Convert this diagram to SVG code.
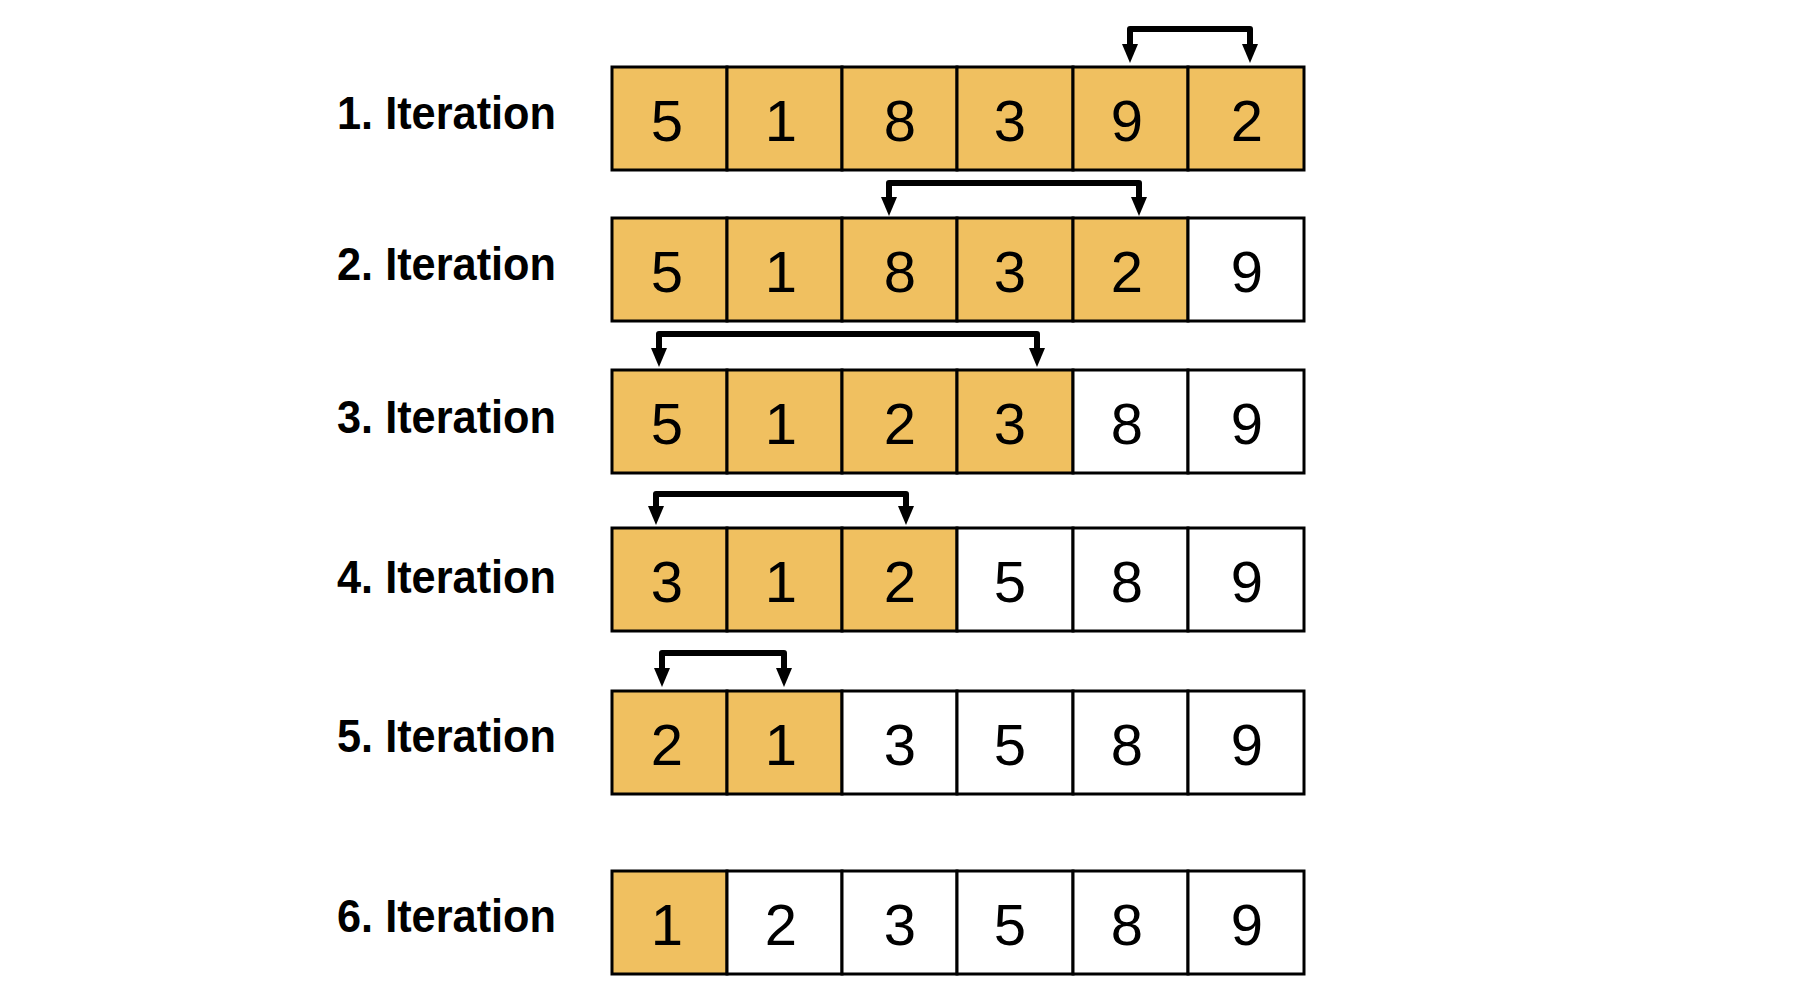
<svg xmlns="http://www.w3.org/2000/svg" width="1800" height="1000" viewBox="0 0 1800 1000">
<style>
.lbl{font-family:"Liberation Sans",Arial,sans-serif;font-weight:bold;font-size:46px;fill:#000}
.num{font-family:"Liberation Sans",Arial,sans-serif;font-size:58px;fill:#000;text-anchor:middle}
.o{fill:#F0C060;stroke:#000;stroke-width:3}
.w{fill:#fff;stroke:#000;stroke-width:3}
.con{fill:none;stroke:#000;stroke-width:6;stroke-linejoin:round;stroke-linecap:butt}
</style>
<defs>
<marker id="ah" markerUnits="userSpaceOnUse" markerWidth="20" markerHeight="18" refX="0" refY="8" orient="auto-start-reverse" viewBox="0 0 20 16">
<path d="M0,0 L19,8 L0,16 z" fill="#000"/>
</marker>
</defs>
<rect width="1800" height="1000" fill="#fff"/>

<g id="row1">
<text class="lbl" x="337" y="129" textLength="219" lengthAdjust="spacingAndGlyphs">1. Iteration</text>
<rect class="o" x="612" y="67" width="115" height="103"/>
<rect class="o" x="727" y="67" width="115" height="103"/>
<rect class="o" x="842" y="67" width="115" height="103"/>
<rect class="o" x="957" y="67" width="116" height="103"/>
<rect class="o" x="1073" y="67" width="115" height="103"/>
<rect class="o" x="1188" y="67" width="116" height="103"/>
<text class="num" x="667" y="141">5</text><text class="num" x="781" y="141">1</text><text class="num" x="900" y="141">8</text><text class="num" x="1010" y="141">3</text><text class="num" x="1127" y="141">9</text><text class="num" x="1247" y="141">2</text>
</g>

<g id="row2">
<text class="lbl" x="337" y="280" textLength="219" lengthAdjust="spacingAndGlyphs">2. Iteration</text>
<rect class="o" x="612" y="218" width="115" height="103"/>
<rect class="o" x="727" y="218" width="115" height="103"/>
<rect class="o" x="842" y="218" width="115" height="103"/>
<rect class="o" x="957" y="218" width="116" height="103"/>
<rect class="o" x="1073" y="218" width="115" height="103"/>
<rect class="w" x="1188" y="218" width="116" height="103"/>
<text class="num" x="667" y="292">5</text><text class="num" x="781" y="292">1</text><text class="num" x="900" y="292">8</text><text class="num" x="1010" y="292">3</text><text class="num" x="1127" y="292">2</text><text class="num" x="1247" y="292">9</text>
</g>

<g id="row3">
<text class="lbl" x="337" y="433" textLength="219" lengthAdjust="spacingAndGlyphs">3. Iteration</text>
<rect class="o" x="612" y="370" width="115" height="103"/>
<rect class="o" x="727" y="370" width="115" height="103"/>
<rect class="o" x="842" y="370" width="115" height="103"/>
<rect class="o" x="957" y="370" width="116" height="103"/>
<rect class="w" x="1073" y="370" width="115" height="103"/>
<rect class="w" x="1188" y="370" width="116" height="103"/>
<text class="num" x="667" y="444">5</text><text class="num" x="781" y="444">1</text><text class="num" x="900" y="444">2</text><text class="num" x="1010" y="444">3</text><text class="num" x="1127" y="444">8</text><text class="num" x="1247" y="444">9</text>
</g>

<g id="row4">
<text class="lbl" x="337" y="593" textLength="219" lengthAdjust="spacingAndGlyphs">4. Iteration</text>
<rect class="o" x="612" y="528" width="115" height="103"/>
<rect class="o" x="727" y="528" width="115" height="103"/>
<rect class="o" x="842" y="528" width="115" height="103"/>
<rect class="w" x="957" y="528" width="116" height="103"/>
<rect class="w" x="1073" y="528" width="115" height="103"/>
<rect class="w" x="1188" y="528" width="116" height="103"/>
<text class="num" x="667" y="602">3</text><text class="num" x="781" y="602">1</text><text class="num" x="900" y="602">2</text><text class="num" x="1010" y="602">5</text><text class="num" x="1127" y="602">8</text><text class="num" x="1247" y="602">9</text>
</g>

<g id="row5">
<text class="lbl" x="337" y="752" textLength="219" lengthAdjust="spacingAndGlyphs">5. Iteration</text>
<rect class="o" x="612" y="691" width="115" height="103"/>
<rect class="o" x="727" y="691" width="115" height="103"/>
<rect class="w" x="842" y="691" width="115" height="103"/>
<rect class="w" x="957" y="691" width="116" height="103"/>
<rect class="w" x="1073" y="691" width="115" height="103"/>
<rect class="w" x="1188" y="691" width="116" height="103"/>
<text class="num" x="667" y="765">2</text><text class="num" x="781" y="765">1</text><text class="num" x="900" y="765">3</text><text class="num" x="1010" y="765">5</text><text class="num" x="1127" y="765">8</text><text class="num" x="1247" y="765">9</text>
</g>

<g id="row6">
<text class="lbl" x="337" y="932" textLength="219" lengthAdjust="spacingAndGlyphs">6. Iteration</text>
<rect class="o" x="612" y="871" width="115" height="103"/>
<rect class="w" x="727" y="871" width="115" height="103"/>
<rect class="w" x="842" y="871" width="115" height="103"/>
<rect class="w" x="957" y="871" width="116" height="103"/>
<rect class="w" x="1073" y="871" width="115" height="103"/>
<rect class="w" x="1188" y="871" width="116" height="103"/>
<text class="num" x="667" y="945">1</text><text class="num" x="781" y="945">2</text><text class="num" x="900" y="945">3</text><text class="num" x="1010" y="945">5</text><text class="num" x="1127" y="945">8</text><text class="num" x="1247" y="945">9</text>
</g>

<g id="connectors">
<path class="con" marker-start="url(#ah)" marker-end="url(#ah)" d="M1130,44 V29 H1250 V44"/>
<path class="con" marker-start="url(#ah)" marker-end="url(#ah)" d="M889,197 V183 H1139 V197"/>
<path class="con" marker-start="url(#ah)" marker-end="url(#ah)" d="M659,348 V334 H1037 V348"/>
<path class="con" marker-start="url(#ah)" marker-end="url(#ah)" d="M656,506 V494 H906 V506"/>
<path class="con" marker-start="url(#ah)" marker-end="url(#ah)" d="M662,668 V653 H784 V668"/>
</g>
</svg>
